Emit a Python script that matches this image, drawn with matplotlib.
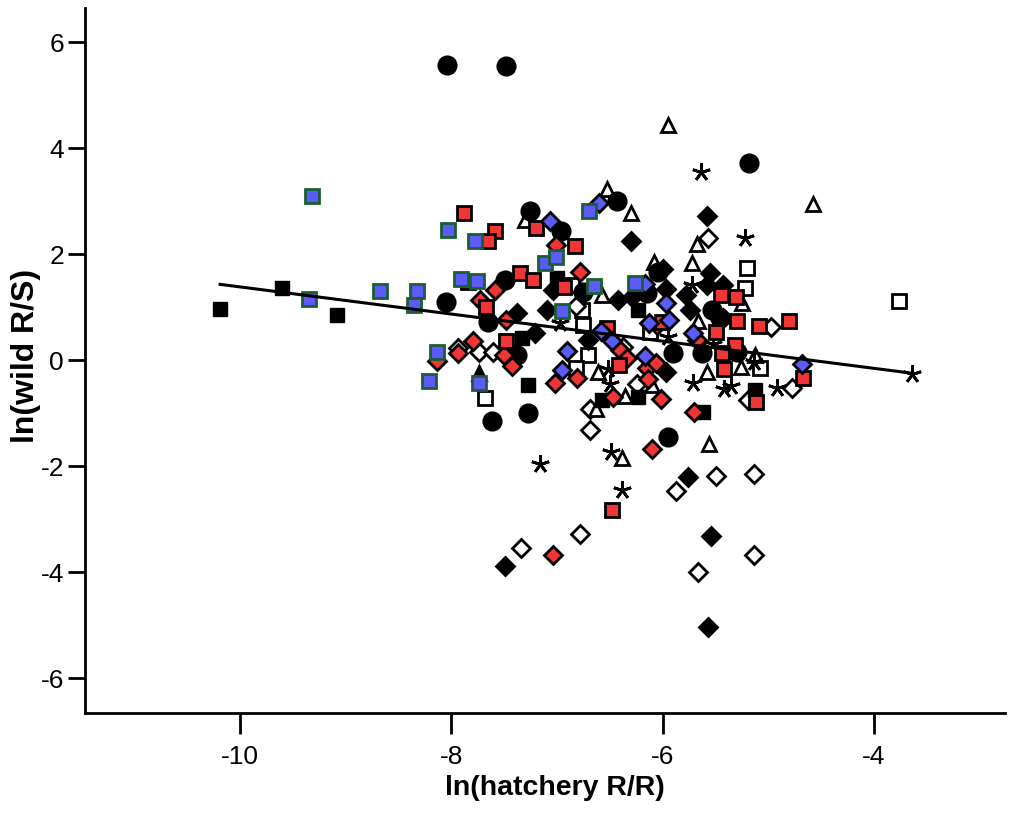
import matplotlib
matplotlib.use('Agg')
import matplotlib.pyplot as plt
import numpy as np

plt.rcParams['font.family'] = ['Liberation Sans', 'DejaVu Sans']
plt.rcParams['axes.unicode_minus'] = False

# points per symbol group (x = ln hatchery R/R, y = ln wild R/S)
circle_x = [-8.04, -7.48, -5.18, -7.26, -6.43, -6.96, -7.49, -8.05, -7.65, -6.04, -6.75,
            -6.15, -5.53, -5.90, -5.63, -5.30, -7.38, -7.28, -7.62, -5.95, -5.46]
circle_y = [5.57, 5.55, 3.72, 2.81, 3.00, 2.43, 1.51, 1.09, 0.72, 1.66, 1.28,
            1.26, 0.94, 0.13, 0.13, 0.15, 0.09, -1.00, -1.15, -1.45, 0.79]

bsquare_x = [-10.19, -9.60, -9.08, -7.00, -6.23, -7.33, -7.28, -6.57, -6.23, -5.62, -5.13]
bsquare_y = [0.96, 1.36, 0.85, 1.55, 0.94, 0.42, -0.47, -0.75, -0.70, -0.98, -0.57]

osquare_x = [-7.68, -5.20, -5.22, -3.76, -5.08, -6.76, -6.75, -6.71, -6.82, -6.12, -6.86]
osquare_y = [-0.72, 1.74, 1.36, 1.11, -0.15, 0.94, 0.66, 0.09, -0.15, 0.53, 1.42]

bluesq_x = [-9.32, -8.03, -7.78, -9.35, -8.68, -8.33, -8.35, -7.91, -7.76, -8.14, -8.21,
            -7.74, -7.11, -7.01, -6.70, -6.95, -6.65, -6.26]
bluesq_y = [3.09, 2.45, 2.25, 1.15, 1.30, 1.30, 1.04, 1.53, 1.49, 0.15, -0.40,
            -0.43, 1.83, 1.94, 2.81, 0.92, 1.40, 1.45]

redsq_x = [-7.88, -7.59, -7.65, -7.84, -7.67, -7.48, -7.35, -7.23, -7.20, -6.83, -6.93,
           -6.53, -6.41, -5.45, -5.31, -5.30, -5.09, -4.80, -5.50, -5.32, -5.44, -5.42,
           -4.67, -5.12, -6.48, -6.01]
redsq_y = [2.77, 2.43, 2.25, 1.47, 1.00, 0.36, 1.64, 1.51, 2.49, 2.15, 1.38,
           0.60, -0.09, 1.23, 1.19, 0.74, 0.64, 0.74, 0.53, 0.28, 0.13, -0.17,
           -0.34, -0.79, -2.83, 0.72]

bdiam_x = [-7.49, -5.57, -5.54, -5.76, -5.58, -6.30, -5.55, -5.43, -5.58, -6.00, -5.97,
           -5.78, -6.42, -6.29, -7.10, -7.38, -7.21, -6.71, -5.74, -5.97, -7.04, -5.43]
bdiam_y = [-3.89, -5.04, -3.32, -2.21, 2.72, 2.25, 1.64, 1.42, 1.42, 1.72, 1.34,
           1.23, 1.13, 1.19, 0.94, 0.89, 0.51, 0.38, 0.94, -0.23, 1.32, 0.79]

odiam_x = [-7.34, -6.78, -5.67, -5.14, -5.14, -5.50, -5.87, -6.69, -6.69, -5.57, -4.97,
           -4.78, -6.24, -5.19, -6.82, -6.38, -7.94, -7.74, -7.61]
odiam_y = [-3.55, -3.28, -4.00, -3.68, -2.15, -2.19, -2.47, -1.32, -0.92, 2.30, 0.62,
           -0.53, -0.45, -0.75, 1.02, 0.25, 0.23, 0.15, 0.15]

reddiam_x = [-7.04, -6.10, -6.02, -6.47, -7.02, -6.81, -5.70, -7.59, -7.73, -7.48, -7.80,
             -7.94, -8.14, -7.50, -7.43, -7.01, -6.78, -6.40, -6.34, -6.15, -6.06, -6.14,
             -5.68, -6.05]
reddiam_y = [-3.68, -1.68, -0.74, -0.70, -0.43, -0.34, -0.98, 1.32, 1.13, 0.75, 0.36,
             0.13, -0.02, 0.09, -0.11, 2.17, 1.66, 0.19, 0.04, -0.15, -0.06, -0.36,
             0.38, 0.66]

bluediam_x = [-7.07, -6.60, -6.17, -5.97, -5.94, -6.13, -5.71, -6.58, -6.48, -6.91, -6.95,
              -6.17, -4.68]
bluediam_y = [2.62, 2.96, 1.43, 1.08, 0.75, 0.70, 0.51, 0.55, 0.36, 0.17, -0.19,
              0.08, -0.08]

otri_x = [-5.95, -4.58, -6.53, -6.30, -5.68, -5.72, -6.08, -7.30, -6.57, -5.25, -5.67,
          -5.13, -5.26, -5.58, -6.61, -6.36, -6.63, -5.56, -6.39, -6.10]
otri_y = [4.43, 2.94, 3.23, 2.77, 2.19, 1.83, 1.85, 2.64, 1.23, 1.08, 0.74,
          0.09, -0.13, -0.23, -0.23, -0.68, -0.92, -1.58, -1.85, -0.47]

btri_x = [-7.74]
btri_y = [-0.25]

star_x = [-5.64, -5.22, -3.64, -7.16, -6.49, -6.39, -5.71, -5.42, -5.35, -4.92, -6.50,
          -5.72, -5.95, -5.52, -5.14, -6.52, -6.97]
star_y = [3.55, 2.30, -0.26, -1.96, -1.74, -2.45, -0.43, -0.55, -0.49, -0.53, -0.45,
          1.42, 0.43, 0.30, -0.04, -0.17, 0.70]

# fitted line
fit_slope = -0.256
fit_intercept = -1.18

x_ticks = [-10, -8, -6, -4]
y_ticks = [-6, -4, -2, 0, 2, 4, 6]

fig = plt.figure(figsize=(10.11, 8.14), dpi=100)
ax = fig.add_axes([0.084, 0.124, 0.91, 0.866])

red = '#ef3535'
blue = '#5b5bf7'
green = '#1b5e33'

ax.plot(osquare_x, osquare_y, 's', ms=9.5, mfc='white', mec='black', mew=2, ls='none', zorder=3)
ax.plot(odiam_x, odiam_y, 'D', ms=9, mfc='white', mec='black', mew=2, ls='none', zorder=3)
ax.plot(otri_x, otri_y, '^', ms=10.5, mfc='white', mec='black', mew=2, ls='none', zorder=3)
ax.plot(btri_x, btri_y, '^', ms=10.5, mfc='black', mec='black', mew=2, ls='none', zorder=3)
ax.plot(star_x, star_y, ls='none', marker=(5, 2, 0), ms=13, mec='black', mew=2, zorder=3)
ax.plot(bdiam_x, bdiam_y, 'D', ms=9, mfc='black', mec='black', mew=2, ls='none', zorder=3)
ax.plot(bsquare_x, bsquare_y, 's', ms=10.5, mfc='black', mec='black', mew=1, ls='none', zorder=3)
ax.plot(circle_x, circle_y, 'o', ms=13.5, mfc='black', mec='black', ls='none', zorder=3)
ax.plot(reddiam_x, reddiam_y, 'D', ms=9, mfc=red, mec='black', mew=2, ls='none', zorder=4)
ax.plot(redsq_x, redsq_y, 's', ms=9.5, mfc=red, mec='black', mew=2, ls='none', zorder=4)
ax.plot(bluediam_x, bluediam_y, 'D', ms=9, mfc=blue, mec='black', mew=2, ls='none', zorder=4)
ax.plot(bluesq_x, bluesq_y, 's', ms=9.5, mfc=blue, mec=green, mew=2, ls='none', zorder=4)

# regression line over the data range
all_x = np.concatenate([circle_x, bsquare_x, osquare_x, bluesq_x, redsq_x, bdiam_x,
                        odiam_x, reddiam_x, bluediam_x, otri_x, btri_x, star_x])
line_x = np.array([all_x.min(), all_x.max()])
ax.plot(line_x, fit_intercept + fit_slope * line_x, color='black', lw=2.2, zorder=5)

ax.set_xlim(-11.47, -2.76)
ax.set_ylim(-6.66, 6.64)
ax.set_xticks(x_ticks)
ax.set_yticks(y_ticks)
ax.spines['top'].set_visible(False)
ax.spines['right'].set_visible(False)
ax.spines['left'].set_linewidth(2)
ax.spines['bottom'].set_linewidth(2)
ax.tick_params(axis='x', direction='out', length=15, width=2, labelsize=19, pad=8)
ax.tick_params(axis='y', direction='out', length=12, width=2, labelsize=19, pad=3)
ax.set_xlabel('ln(hatchery R/R)', fontsize=20.5, fontweight='bold')
ax.set_ylabel('ln(wild R/S)', fontsize=23, fontweight='bold')
ax.xaxis.set_label_coords(0.511, -0.088)
ax.yaxis.set_label_coords(-0.048, 0.506)

fig.savefig('out.png', dpi=100)
